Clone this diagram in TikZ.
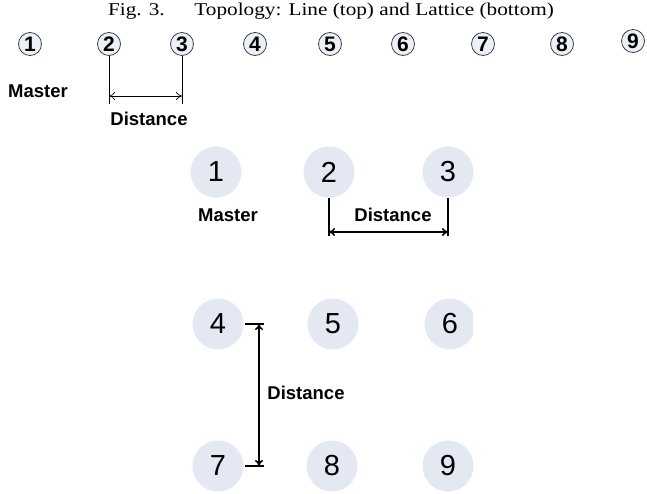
\documentclass[tikz,border=0pt]{standalone}
\usepackage{fontspec}
\setmainfont{Liberation Serif}
\setsansfont{Liberation Sans}
\usetikzlibrary{arrows.meta}
\begin{document}
\begin{tikzpicture}[x=1pt,y=-1pt,
  small/.style={circle,draw=black!75,line width=0.8pt,fill={rgb,255:red,236;green,240;blue,249},minimum size=23pt,inner sep=0pt,font=\sffamily\bfseries\fontsize{21}{21}\selectfont},
  big/.style={circle,fill={rgb,255:red,227;green,232;blue,243},minimum size=51pt,inner sep=0pt,font=\sffamily\fontsize{29}{29}\selectfont},
  lbl/.style={font=\sffamily\bfseries\fontsize{18.5}{18.5}\selectfont,inner sep=0pt},
  thin/.style={line width=0.7pt},
  thick2/.style={line width=1.6pt},
  dimthin/.style={{To[length=6pt,width=8pt]}-{To[length=6pt,width=8pt]}},
  dim/.style={{To[length=6pt,width=8pt]}-{To[length=6pt,width=8pt]}}
]
\useasboundingbox (0,0) rectangle (647,493);
% caption
\node[font=\fontsize{18}{18}\selectfont,inner sep=0pt] (cap) at (331,11) {\scalebox{1.18}[1]{Fig. 3.\hspace{1.4em}Topology: Line (top) and Lattice (bottom)}};
% line topology
\node[small] (l1) at (30,44) {1};
\node[small] (l2) at (109,44) {2};
\node[small] (l3) at (182,44) {3};
\node[small] (l4) at (255,44) {4};
\node[small] (l5) at (330,44) {5};
\node[small] (l6) at (403,44) {6};
\node[small] (l7) at (483,44) {7};
\node[small] (l8) at (562,44) {8};
\node[small] (l9) at (633,41) {9};
\node[lbl] (lm) at (38,91) {Master};
\node[lbl] (ld) at (149,119) {Distance};
\coordinate (l2b) at (109,104);
\coordinate (l3b) at (182,104);
\draw[thin] (l2.south) -- (l2b);
\draw[thin] (l3.south) -- (l3b);
\coordinate (l2a) at (109,96);
\coordinate (l3a) at (182,96);
\draw[thin,dimthin] (l2a) -- (l3a);
% lattice
\node[big] (b1) at (216,172) {1};
\node[big] (b2) at (329,172) {2};
\node[big] (b3) at (448,172) {3};
\node[big] (b4) at (218,324) {4};
\node[big] (b5) at (333,324) {5};
\begin{scope}
\clip (420,290) rectangle (473,360);
\node[big] (b6) at (450,324) {6};
\end{scope}
\node[big] (b7) at (218,466) {7};
\node[big] (b8) at (332,466) {8};
\node[big] (b9) at (448,466) {9};
\node[lbl] (bm) at (228,215) {Master};
\node[lbl] (bd1) at (393,215) {Distance};
\node[lbl] (bd2) at (306,393) {Distance};
\coordinate (b2c) at (329,236);
\coordinate (b3c) at (448,236);
\draw[thick2] (b2.south) -- (b2c);
\draw[thick2] (b3.south) -- (b3c);
\coordinate (b2d) at (329,232);
\coordinate (b3d) at (448,232);
\draw[thick2,dim] (b2d) -- (b3d);
\coordinate (t4a) at (245,324);
\coordinate (t4b) at (264,324);
\coordinate (t7a) at (245,466);
\coordinate (t7b) at (264,466);
\draw[thick2] (t4a) -- (t4b);
\draw[thick2] (t7a) -- (t7b);
\coordinate (v4) at (259,324);
\coordinate (v7) at (259,466);
\draw[thick2,dim] (v4) -- (v7);
\end{tikzpicture}
\end{document}
